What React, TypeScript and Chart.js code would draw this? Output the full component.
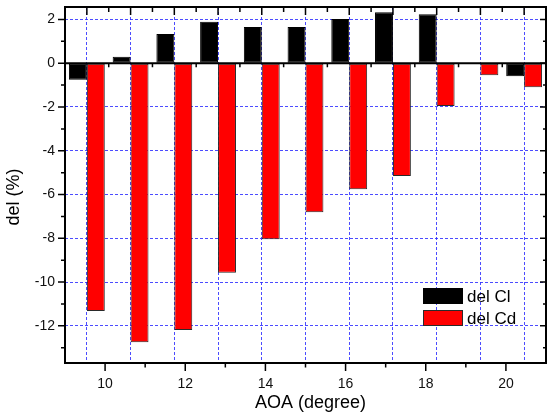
import React, { useEffect, useRef } from "react";
import { Chart, registerables } from "chart.js";

Chart.register(...registerables);

const categories = ["10", "11", "12", "13", "14", "15", "16", "17", "18", "19", "20"];
const delCl = [-0.76, 0.3, 1.34, 1.9, 1.66, 1.66, 2.02, 2.33, 2.24, 0, -0.59];
const delCd = [-11.32, -12.75, -12.19, -9.57, -8.04, -6.81, -5.76, -5.15, -1.95, -0.55, -1.1];
const yTicks = [-12, -10, -8, -6, -4, -2, 0, 2];
const xTicks = [10, 12, 14, 16, 18, 20];

const FONT = "'Liberation Sans', Arial, sans-serif";
const GRID = "rgba(45,45,255,0.85)";

const framePlugin = {
  id: "frame",
  afterDatasetsDraw(chart: any) {
    const { ctx, chartArea } = chart;
    const { left, right, top, bottom } = chartArea;
    const y = chart.scales.y;
    const xc = chart.scales.x;
    const x2 = chart.scales.x2;
    ctx.save();
    ctx.strokeStyle = "#000";
    const y0 = y.getPixelForValue(0);
    ctx.lineWidth = 2;
    ctx.beginPath();
    ctx.moveTo(left, y0);
    ctx.lineTo(right, y0);
    ctx.stroke();
    ctx.beginPath();
    ctx.rect(left, top, right - left, bottom - top);
    ctx.stroke();
    ctx.lineWidth = 1.5;
    ctx.beginPath();
    for (let v = -13; v <= 2; v++) {
      const py = y.getPixelForValue(v);
      const major = v % 2 === 0;
      ctx.moveTo(left, py);
      ctx.lineTo(left - (major ? 7 : 4), py);
      ctx.moveTo(right, py);
      ctx.lineTo(right - (major ? 6 : 3), py);
    }
    for (let v = 10; v <= 20; v++) {
      const px = x2.getPixelForValue(v);
      const major = v % 2 === 0;
      ctx.moveTo(px, bottom);
      ctx.lineTo(px, bottom + (major ? 8 : 4.5));
    }
    for (let i = 0; i < categories.length; i++) {
      const pc = xc.getPixelForValue(i);
      ctx.moveTo(pc, top);
      ctx.lineTo(pc, top + 8);
      if (i < categories.length - 1) {
        const ph = (pc + xc.getPixelForValue(i + 1)) / 2;
        ctx.moveTo(ph, top);
        ctx.lineTo(ph, top + 5);
        ctx.moveTo(ph, y0);
        ctx.lineTo(ph, y0 + 4);
      }
    }
    ctx.stroke();

    const lx = right - 123;
    const ly = bottom - 75;
    chart.data.datasets.forEach((ds: any, i: number) => {
      const by = ly + i * 22;
      ctx.fillStyle = ds.backgroundColor;
      ctx.fillRect(lx, by, 40, 16);
      ctx.lineWidth = 1;
      ctx.strokeStyle = ds.borderColor;
      ctx.strokeRect(lx + 0.5, by + 0.5, 39, 15);
      ctx.fillStyle = "#000";
      ctx.font = `17px ${FONT}`;
      ctx.textAlign = "left";
      ctx.textBaseline = "alphabetic";
      ctx.fillText(ds.label, lx + 44, by + 14);
    });

    ctx.fillStyle = "#000";
    ctx.font = `18px ${FONT}`;
    ctx.textAlign = "center";
    ctx.textBaseline = "middle";
    ctx.fillText("AOA (degree)", (left + right) / 2 + 5, 403);
    ctx.translate(14, (top + bottom) / 2 + 12);
    ctx.rotate(-Math.PI / 2);
    ctx.fillText("del (%)", 0, 0);
    ctx.restore();
  },
};

export default function App() {
  const ref = useRef<HTMLCanvasElement>(null);
  useEffect(() => {
    if (!ref.current) return;
    const chart = new Chart(ref.current, {
      type: "bar",
      data: {
        labels: categories,
        datasets: [
          {
            label: "del Cl",
            data: delCl,
            backgroundColor: "#000000",
            borderColor: "#000000",
            borderWidth: 1,
            borderSkipped: false,
            barPercentage: 1,
            categoryPercentage: 0.82,
            xAxisID: "x",
            yAxisID: "y",
          },
          {
            label: "del Cd",
            data: delCd,
            backgroundColor: "#ff0000",
            borderColor: "#2a2a2a",
            borderWidth: 1,
            borderSkipped: false,
            barPercentage: 1,
            categoryPercentage: 0.82,
            xAxisID: "x",
            yAxisID: "y",
          },
        ],
      },
      options: {
        animation: false,
        responsive: true,
        maintainAspectRatio: false,
        layout: { padding: { left: 0, right: 1, top: 0, bottom: 0 } },
        plugins: { legend: { display: false }, tooltip: { enabled: false } },
        scales: {
          x: {
            type: "category",
            position: "top",
            offset: true,
            grid: {
              offset: false,
              color: GRID,
              lineWidth: 1,
              drawTicks: false,
              drawOnChartArea: true,
            },
            border: { display: false, dash: [3, 2] },
            ticks: { display: false },
            afterFit: (s: any) => {
              s.height = 7;
              s.paddingLeft = 0;
              s.paddingRight = 0;
            },
          },
          x2: {
            type: "linear",
            position: "bottom",
            min: 9,
            max: 21,
            offset: false,
            afterBuildTicks: (s: any) => {
              s.ticks = xTicks.map((v) => ({ value: v }));
            },
            grid: { display: false, drawTicks: false, offset: false },
            border: { display: false },
            ticks: {
              padding: 13,
              color: "#111",
              font: { family: FONT, size: 14 },
              maxRotation: 0,
            },
            afterFit: (s: any) => {
              s.height = 56;
              s.paddingLeft = 0;
              s.paddingRight = 0;
            },
          },
          y: {
            type: "linear",
            position: "left",
            min: -13.7,
            max: 2.57,
            afterBuildTicks: (s: any) => {
              s.ticks = yTicks.map((v) => ({ value: v }));
            },
            grid: {
              color: (c: any) => (c.tick && c.tick.value === 0 ? "rgba(0,0,0,0)" : GRID),
              lineWidth: 1,
              drawTicks: false,
            },
            border: { display: false, dash: [3, 2] },
            ticks: {
              padding: 10,
              color: "#111",
              font: { family: FONT, size: 14 },
              callback: (v: any) => String(v),
            },
            afterFit: (s: any) => {
              s.width = 65;
              s.paddingTop = 0;
              s.paddingBottom = 0;
            },
          },
        },
      },
      plugins: [framePlugin],
    });
    return () => chart.destroy();
  }, []);
  return (
    <div style={{ position: "fixed", left: 0, top: 0, width: 547, height: 419, background: "#fff" }}>
      <canvas ref={ref} />
    </div>
  );
}
